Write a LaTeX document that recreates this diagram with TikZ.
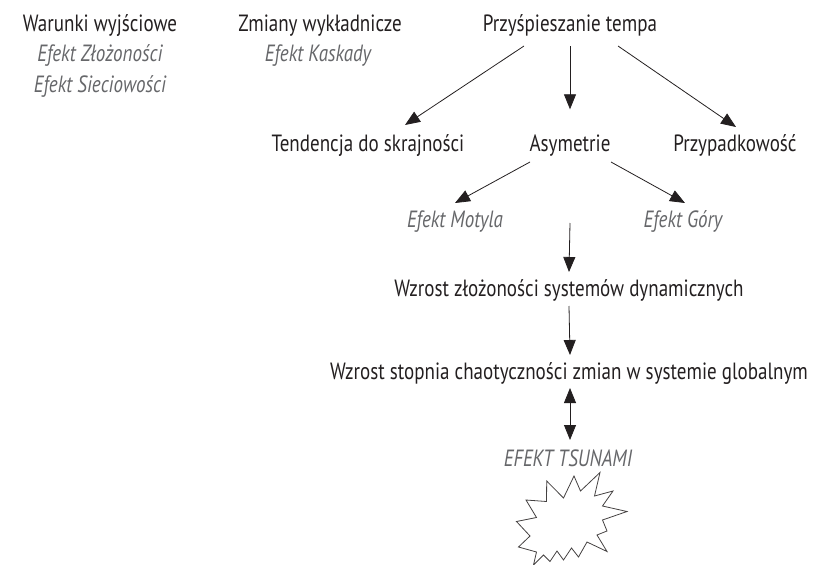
\documentclass[tikz,border=0pt]{standalone}
\usepackage{fontspec}
\setmainfont{PT Sans}[FakeStretch=0.81]
\usetikzlibrary{arrows.meta}
\definecolor{ink}{HTML}{231F20}
\definecolor{soft}{HTML}{66676A}
\tikzset{
  lbl/.style={anchor=base, inner sep=0pt, text=ink, font=\fontsize{23.5}{28}\selectfont},
  sub/.style={lbl, text=soft, font=\fontsize{23.5}{28}\selectfont\itshape},
  arr/.style={draw=ink, line width=0.8pt, -{Triangle[length=15pt,width=12pt]}},
  darr/.style={draw=ink, line width=0.8pt, {Triangle[length=15pt,width=12pt]}-{Triangle[length=15pt,width=12pt]}},
  burst/.style={draw=ink!85, line width=0.8pt, line join=miter}
}
\begin{document}
\begin{tikzpicture}[x=1pt, y=-1pt]
\useasboundingbox (0,0) rectangle (836,565);

% top row: three groups of headings
\node[lbl] (war)  at (100,31) {Warunki wyjściowe};
\node[sub] (zlo)  at (100,61.5) {Efekt Złożoności};
\node[sub] (sie)  at (100,92) {Efekt Sieciowości};
\node[lbl] (zmi)  at (320,31) {Zmiany wykładnicze};
\node[sub] (kas)  at (318,61.5) {Efekt Kaskady};
\node[lbl] (tempo) at (570,31.7) {Przyśpieszanie tempa};

% second row
\node[lbl] (tend)  at (368,151.7) {Tendencja do skrajności};
\node[lbl] (asym)  at (570,151.7) {Asymetrie};
\node[lbl] (przyp) at (735,151.7) {Przypadkowość};

% effects of asymmetry
\node[sub] (mot) at (455,227.3) {Efekt Motyla};
\node[sub] (gor) at (683,227.3) {Efekt Góry};

% chain downwards
\node[lbl] (zloz) at (569,296) {Wzrost złożoności systemów dynamicznych};
\node[lbl] (stop) at (569,379) {Wzrost stopnia chaotyczności zmian w systemie globalnym};
\node[sub] (tsu)  at (568,466.7) {EFEKT TSUNAMI};

% connectors
\draw[arr] ([xshift=-46pt,yshift=-14.3pt]tempo.base) -- ([xshift=37pt,yshift=26.7pt]tend.base);
\draw[arr] ([yshift=-14.3pt]tempo.base) -- ([yshift=42.4pt]asym.base);
\draw[arr] ([xshift=48pt,yshift=-14.3pt]tempo.base) -- ([xshift=1pt,yshift=24.7pt]przyp.base);
\draw[arr] ([xshift=-40pt,yshift=-10.3pt]asym.base) -- ([yshift=24.3pt]mot.base);
\draw[arr] ([xshift=41pt,yshift=-10.3pt]asym.base) -- ([xshift=2pt,yshift=24.3pt]gor.base);
\draw[arr] ([yshift=-71.3pt]asym.base) -- ([yshift=24pt]zloz.base);
\draw[arr] ([yshift=-10pt]zloz.base) -- ([xshift=1pt,yshift=24pt]stop.base);
\draw[darr] ([xshift=1pt,yshift=-9pt]stop.base) -- ([xshift=2pt,yshift=26.7pt]tsu.base);

% starburst under the tsunami label
\draw[burst] (546.7,481) -- (563.5,498) -- (574,476) -- (580.5,491) -- (600,472.5)
  -- (594.5,496) -- (613,491) -- (602.5,506) -- (627,511.5) -- (602.5,520)
  -- (607,531) -- (597,535) -- (607,551.5) -- (587,542) -- (578.5,557)
  -- (571.5,548) -- (563.5,560) -- (557,551) -- (550,561.5) -- (543.5,555)
  -- (533.5,565) -- (536.5,552) -- (518.5,547) -- (530,536) -- (516.5,521.5)
  -- (536.5,517.5) -- (526,500) -- (546.5,501.5) -- cycle;
\end{tikzpicture}
\end{document}
